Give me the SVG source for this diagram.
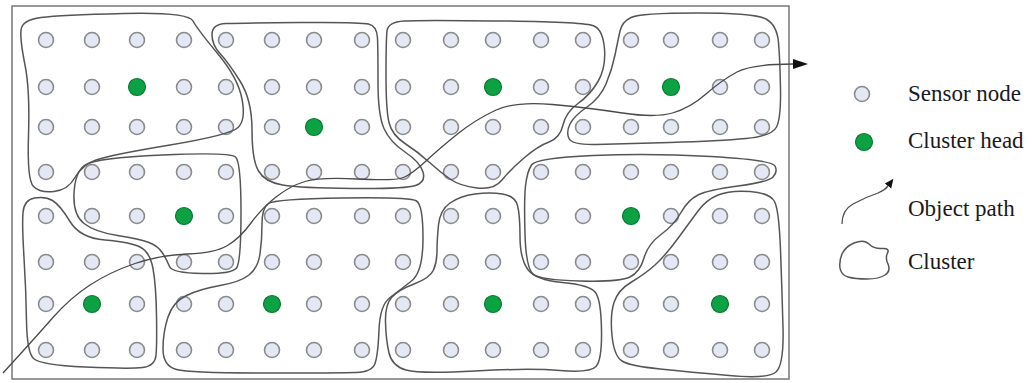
<svg xmlns="http://www.w3.org/2000/svg" xmlns:xlink="http://www.w3.org/1999/xlink" width="1032" height="383" viewBox="0 0 1032 383">
<defs>
<style>
.sn{fill:#e3e8f4;stroke:#8a8a8a;stroke-width:1.6}
.ch{fill:#0ca243;stroke:#0a7a33;stroke-width:1.2}
.cl{fill:none;stroke:#555;stroke-width:1.5;stroke-linejoin:round}
.op{fill:none;stroke:#4a4a4a;stroke-width:1.3}
.lbl{font-family:"Liberation Serif","Times New Roman",serif;font-size:23px;fill:#1a1a1a}
</style>
<circle id="s" r="7.5" class="sn"/>
<circle id="h" r="8.5" class="ch"/>
<marker id="arr" markerUnits="userSpaceOnUse" markerWidth="16" markerHeight="12" refX="0" refY="5" orient="auto"><path d="M0,0 L15,5 L0,10 Z" fill="#111"/></marker>
<marker id="arrs" markerUnits="userSpaceOnUse" markerWidth="10" markerHeight="10" refX="0" refY="4" orient="auto"><path d="M0,0 L9,4 L0,8 Z" fill="#111"/></marker>
</defs>
<rect width="1032" height="383" fill="#fff"/>
<rect id="field" x="12" y="6" width="777" height="373" fill="#fff" stroke="#777" stroke-width="1.5"/>

<g id="sensor-nodes">
<g id="row1" transform="translate(0,40)">
<use id="n1-1" href="#s" x="46"/><use id="n1-2" href="#s" x="92"/><use id="n1-3" href="#s" x="137"/><use id="n1-4" href="#s" x="184"/><use id="n1-5" href="#s" x="226"/><use id="n1-6" href="#s" x="272"/><use id="n1-7" href="#s" x="314"/><use id="n1-8" href="#s" x="362"/><use id="n1-9" href="#s" x="403"/><use id="n1-10" href="#s" x="451"/><use id="n1-11" href="#s" x="493"/><use id="n1-12" href="#s" x="541"/><use id="n1-13" href="#s" x="583"/><use id="n1-14" href="#s" x="631"/><use id="n1-15" href="#s" x="671"/><use id="n1-16" href="#s" x="720"/><use id="n1-17" href="#s" x="762"/>
</g>
<g id="row2" transform="translate(0,87)">
<use id="n2-1" href="#s" x="46"/><use id="n2-2" href="#s" x="92"/><use id="n2-4" href="#s" x="184"/><use id="n2-5" href="#s" x="226"/><use id="n2-6" href="#s" x="272"/><use id="n2-7" href="#s" x="314"/><use id="n2-8" href="#s" x="362"/><use id="n2-9" href="#s" x="403"/><use id="n2-10" href="#s" x="451"/><use id="n2-12" href="#s" x="541"/><use id="n2-13" href="#s" x="583"/><use id="n2-14" href="#s" x="631"/><use id="n2-16" href="#s" x="720"/><use id="n2-17" href="#s" x="762"/>
</g>
<g id="row3" transform="translate(0,127)">
<use id="n3-1" href="#s" x="46"/><use id="n3-2" href="#s" x="92"/><use id="n3-3" href="#s" x="137"/><use id="n3-4" href="#s" x="184"/><use id="n3-5" href="#s" x="226"/><use id="n3-6" href="#s" x="272"/><use id="n3-8" href="#s" x="362"/><use id="n3-9" href="#s" x="403"/><use id="n3-10" href="#s" x="451"/><use id="n3-11" href="#s" x="493"/><use id="n3-12" href="#s" x="541"/><use id="n3-13" href="#s" x="583"/><use id="n3-14" href="#s" x="631"/><use id="n3-15" href="#s" x="671"/><use id="n3-16" href="#s" x="720"/><use id="n3-17" href="#s" x="762"/>
</g>
<g id="row4" transform="translate(0,172)">
<use id="n4-1" href="#s" x="46"/><use id="n4-2" href="#s" x="92"/><use id="n4-3" href="#s" x="137"/><use id="n4-4" href="#s" x="184"/><use id="n4-5" href="#s" x="226"/><use id="n4-6" href="#s" x="272"/><use id="n4-7" href="#s" x="314"/><use id="n4-8" href="#s" x="362"/><use id="n4-9" href="#s" x="403"/><use id="n4-10" href="#s" x="451"/><use id="n4-11" href="#s" x="493"/><use id="n4-12" href="#s" x="541"/><use id="n4-13" href="#s" x="583"/><use id="n4-14" href="#s" x="631"/><use id="n4-15" href="#s" x="671"/><use id="n4-16" href="#s" x="720"/><use id="n4-17" href="#s" x="762"/>
</g>
<g id="row5" transform="translate(0,216)">
<use id="n5-1" href="#s" x="46"/><use id="n5-2" href="#s" x="92"/><use id="n5-3" href="#s" x="137"/><use id="n5-5" href="#s" x="226"/><use id="n5-6" href="#s" x="272"/><use id="n5-7" href="#s" x="314"/><use id="n5-8" href="#s" x="362"/><use id="n5-9" href="#s" x="403"/><use id="n5-10" href="#s" x="451"/><use id="n5-11" href="#s" x="493"/><use id="n5-12" href="#s" x="541"/><use id="n5-13" href="#s" x="583"/><use id="n5-15" href="#s" x="671"/><use id="n5-16" href="#s" x="720"/><use id="n5-17" href="#s" x="762"/>
</g>
<g id="row6" transform="translate(0,262)">
<use id="n6-1" href="#s" x="46"/><use id="n6-2" href="#s" x="92"/><use id="n6-3" href="#s" x="137"/><use id="n6-4" href="#s" x="184"/><use id="n6-5" href="#s" x="226"/><use id="n6-6" href="#s" x="272"/><use id="n6-7" href="#s" x="314"/><use id="n6-8" href="#s" x="362"/><use id="n6-9" href="#s" x="403"/><use id="n6-10" href="#s" x="451"/><use id="n6-11" href="#s" x="493"/><use id="n6-12" href="#s" x="541"/><use id="n6-13" href="#s" x="583"/><use id="n6-14" href="#s" x="631"/><use id="n6-15" href="#s" x="671"/><use id="n6-16" href="#s" x="720"/><use id="n6-17" href="#s" x="762"/>
</g>
<g id="row7" transform="translate(0,304)">
<use id="n7-1" href="#s" x="46"/><use id="n7-3" href="#s" x="137"/><use id="n7-4" href="#s" x="184"/><use id="n7-5" href="#s" x="226"/><use id="n7-7" href="#s" x="314"/><use id="n7-8" href="#s" x="362"/><use id="n7-9" href="#s" x="403"/><use id="n7-10" href="#s" x="451"/><use id="n7-12" href="#s" x="541"/><use id="n7-13" href="#s" x="583"/><use id="n7-14" href="#s" x="631"/><use id="n7-15" href="#s" x="671"/><use id="n7-17" href="#s" x="762"/>
</g>
<g id="row8" transform="translate(0,350)">
<use id="n8-1" href="#s" x="46"/><use id="n8-2" href="#s" x="92"/><use id="n8-3" href="#s" x="137"/><use id="n8-4" href="#s" x="184"/><use id="n8-5" href="#s" x="226"/><use id="n8-6" href="#s" x="272"/><use id="n8-7" href="#s" x="314"/><use id="n8-8" href="#s" x="362"/><use id="n8-9" href="#s" x="403"/><use id="n8-10" href="#s" x="451"/><use id="n8-11" href="#s" x="493"/><use id="n8-12" href="#s" x="541"/><use id="n8-13" href="#s" x="583"/><use id="n8-14" href="#s" x="631"/><use id="n8-15" href="#s" x="671"/><use id="n8-16" href="#s" x="720"/><use id="n8-17" href="#s" x="762"/>
</g>
</g>

<g id="cluster-heads">
<use id="ch-1" href="#h" x="137" y="87"/>
<use id="ch-2" href="#h" x="314" y="127"/>
<use id="ch-3" href="#h" x="493" y="87"/>
<use id="ch-4" href="#h" x="671" y="87"/>
<use id="ch-5" href="#h" x="184" y="216"/>
<use id="ch-6" href="#h" x="631" y="216"/>
<use id="ch-7" href="#h" x="92" y="304"/>
<use id="ch-8" href="#h" x="272" y="304"/>
<use id="ch-9" href="#h" x="493" y="304"/>
<use id="ch-10" href="#h" x="720" y="304"/>
</g>

<g id="clusters">
<path id="cluster-1" class="cl" d="M21,30 Q22,20 41,17.5 Q60,15 124,13.5 Q188,12 193,21 Q198,30 218,54 Q238,78 242,99 Q246,120 238,127.5 Q230,135 170,145 Q110,155 96,160 Q82,165 75,177.5 Q68,190 54,191.5 Q40,193 33.5,186.5 Q27,180 28.5,135 Q30,90 25,65 Q20,40 21,30 Z"/>
<path id="cluster-2" class="cl" d="M212,34.5 Q212,24 226,23.5 Q240,23 300,22.5 Q360,22 368.5,24 Q377,26 377.5,38 Q378,50 378,82.5 Q378,115 384,128.5 Q390,142 405,152 Q420,162 423,172 Q426,182 415.5,185.5 Q405,189 352.5,188.5 Q300,188 282.5,185 Q265,182 258.5,171 Q252,160 252,130 Q252,100 240,81 Q228,62 220,53.5 Q212,45 212,34.5 Z"/>
<path id="cluster-3" class="cl" d="M387,31 Q388,22 404,21 Q420,20 502.5,21 Q585,22 594,26 Q603,30 604.5,49 Q606,68 598,81.5 Q590,95 578,103.5 Q566,112 563,125 Q560,138 549,142 Q538,146 524,158 Q510,170 502,180 Q494,190 477,188 Q460,186 450,179 Q440,172 429,162 Q418,152 405,143.5 Q392,135 389,122.5 Q386,110 386,75 Q386,40 387,31 Z"/>
<path id="cluster-4" class="cl" d="M620,31 Q622,22 631,17.5 Q640,13 697.5,13 Q755,13 766,19 Q777,25 778.5,42.5 Q780,60 780.5,89 Q781,118 776.5,127 Q772,136 746,138.5 Q720,141 670,142.5 Q620,144 596,144.5 Q572,145 569,138.5 Q566,132 570,124 Q574,116 587,107 Q600,98 606,84 Q612,70 615,55 Q618,40 620,31 Z"/>
<path id="cluster-5" class="cl" d="M74,193.5 Q75,172 85,165 Q95,158 162.5,155 Q230,152 235.5,157 Q241,162 241,212 Q241,262 236.5,268 Q232,274 202,273.5 Q172,273 169.5,266.5 Q167,260 162.5,253 Q158,246 149,242.5 Q140,239 117.5,235.5 Q95,232 84,223.5 Q73,215 74,193.5 Z"/>
<path id="cluster-6" class="cl" d="M23,212.5 Q24,200 34.5,198 Q45,196 52.5,200.5 Q60,205 70,221.5 Q80,238 105,240 Q130,242 140,247 Q150,252 153,268.5 Q156,285 156.5,315 Q157,345 156,355.5 Q155,366 142.5,367.5 Q130,369 85,367 Q40,365 33.5,358.5 Q27,352 26.5,321 Q26,290 24,257.5 Q22,225 23,212.5 Z"/>
<path id="cluster-7" class="cl" d="M262,224 Q262,208 268.5,203.5 Q275,199 342.5,198 Q410,197 416.5,201 Q423,205 423,238.5 Q423,272 411.5,281 Q400,290 390,297.5 Q380,305 379,330 Q378,355 375,363.5 Q372,372 356,372.5 Q340,373 265,373 Q190,373 176.5,369.5 Q163,366 163,349 Q163,332 168,317 Q173,302 186.5,295.5 Q200,289 220,285.5 Q240,282 249,275 Q258,268 260,254 Q262,240 262,224 Z"/>
<path id="cluster-8" class="cl" d="M437,251 Q437,240 438.5,225 Q440,210 450,203 Q460,196 475,194 Q490,192 502.5,194 Q515,196 517.5,205.5 Q520,215 520,236.5 Q520,258 527.5,269 Q535,280 562.5,282.5 Q590,285 595.5,292.5 Q601,300 601.5,330 Q602,360 596,366.5 Q590,373 560,370.5 Q530,368 475,371 Q420,374 406,370 Q392,366 389,353 Q386,340 385.5,322.5 Q385,305 391.5,297.5 Q398,290 414,284 Q430,278 433.5,270 Q437,262 437,251 Z"/>
<path id="cluster-9" class="cl" d="M525.5,186 Q527,172 531.5,165 Q536,158 593,155.5 Q650,153 711,156.5 Q772,160 775,166 Q778,172 773,177 Q768,182 738,186 Q708,190 698,195 Q688,200 681,212.5 Q674,225 661,234.5 Q648,244 644,258 Q640,272 630,277 Q620,282 580,281 Q540,280 533,274 Q526,268 525,234 Q524,200 525.5,186 Z"/>
<path id="cluster-10" class="cl" d="M698,211 Q706,200 718,195 Q730,190 750,191.5 Q770,193 774.5,201.5 Q779,210 780.5,250 Q782,290 783,327.5 Q784,365 776,372 Q768,379 729,375.5 Q690,372 660,369 Q630,366 622,361 Q614,356 612,335.5 Q610,315 614,302.5 Q618,290 631.5,282 Q645,274 655,265 Q665,256 677.5,239 Q690,222 698,211 Z"/>
</g>

<g id="connectors">
<path id="object-path" class="op" marker-end="url(#arr)" d="M3,373 Q35,338 52.5,318 Q70,298 90,285 Q110,272 135,263.5 Q160,255 187.5,254 Q215,253 227.5,245.5 Q240,238 251,223 Q262,208 276,197 Q290,186 305,181.5 Q320,177 357.5,179 Q395,181 403.5,177.5 Q412,174 426,161 Q440,148 457.5,134 Q475,120 495,110.5 Q515,101 552.5,104.5 Q590,108 622.5,113 Q655,118 672.5,113 Q690,108 706,94 Q722,80 737,72 Q752,64 793,64"/>
</g>

<g id="legend">
<g id="legend-sensor"><use href="#s" x="862" y="94"/><text class="lbl" x="908" y="101">Sensor node</text></g>
<g id="legend-head"><use href="#h" x="864" y="142"/><text class="lbl" x="908" y="148">Cluster head</text></g>
<g id="legend-path"><path class="op" marker-end="url(#arrs)" d="M842,224 Q842,210 853,204 Q866,197 878,193 Q885,190 888,186"/><text class="lbl" x="908" y="216">Object path</text></g>
<g id="legend-cluster"><path class="cl" d="M840,268 Q839,261 842,254 Q845,247 854,243 Q864,239 869,244 Q874,249 882,248.5 Q890,248 887.5,253 Q885,258 888,264 Q891,271 885,275 Q879,279 867,279 Q855,279 848,277 Q841,275 840,268 Z"/><text class="lbl" x="908" y="269">Cluster</text></g>
</g>
</svg>
